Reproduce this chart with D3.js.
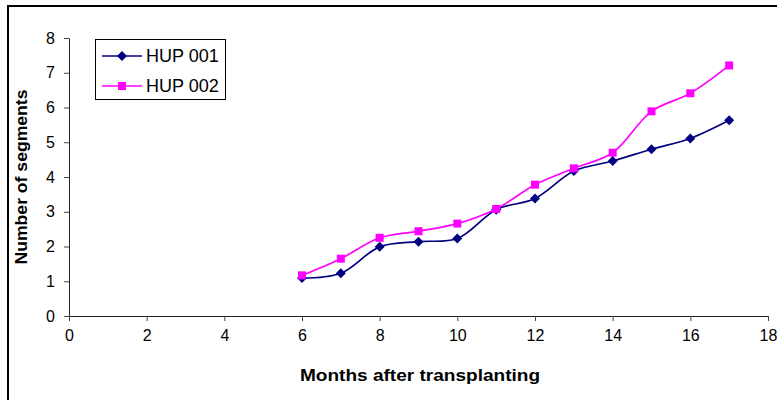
<!DOCTYPE html>
<html>
<head>
<meta charset="utf-8">
<script src="https://cdn.jsdelivr.net/npm/d3@7"></script>
<style>
  html, body { margin: 0; padding: 0; background: #fff; }
  svg { display: block; font-family: "Liberation Sans", Arial, sans-serif; }
</style>
</head>
<body>
<svg id="chart" width="777" height="400"></svg>
<script>
const months = [6, 7, 8, 9, 10, 11, 12, 13, 14, 15, 16, 17];
const hup001 = [1.09, 1.23, 1.99, 2.14, 2.23, 3.06, 3.38, 4.17, 4.46, 4.8, 5.11, 5.63];
const hup002 = [1.17, 1.65, 2.25, 2.44, 2.66, 3.08, 3.78, 4.25, 4.7, 5.89, 6.41, 7.21];
const seriesNames = ["HUP 001", "HUP 002"];
const xTicks = [0, 2, 4, 6, 8, 10, 12, 14, 16, 18];
const yTicks = [0, 1, 2, 3, 4, 5, 6, 7, 8];
const xTitle = "Months after transplanting";
const yTitle = "Number of segments";

const svg = d3.select("#chart");
const x = d3.scaleLinear().domain([0, 18]).range([69, 768]);
const y = d3.scaleLinear().domain([0, 8]).range([316, 38]);

// outer frame
svg.append("rect").attr("x", 8).attr("y", 6).attr("width", 900).attr("height", 500)
  .attr("fill", "none").attr("stroke", "#000").attr("stroke-width", 2);

// axes
const xAxis = svg.append("g").attr("transform", "translate(0,316)")
  .call(d3.axisBottom(x).tickValues(xTicks).tickSize(5).tickSizeOuter(0).tickPadding(9));
const yAxis = svg.append("g").attr("transform", "translate(69,0)")
  .call(d3.axisLeft(y).tickValues(yTicks).tickSize(5).tickSizeOuter(0).tickPadding(9));
[xAxis, yAxis].forEach(g => {
  g.select(".domain").attr("stroke", "#222");
  g.selectAll(".tick line").attr("stroke", "#444");
  g.selectAll(".tick text").attr("font-size", 16).attr("fill", "#000")
    .attr("font-family", "Liberation Sans, Arial, sans-serif");
});

// titles
svg.append("text").attr("x", 420).attr("y", 381).attr("text-anchor", "middle")
  .attr("font-size", 16).attr("font-weight", "bold")
  .attr("textLength", 240).attr("lengthAdjust", "spacingAndGlyphs").text(xTitle);
svg.append("text").attr("transform", "translate(27,177) rotate(-90)")
  .attr("text-anchor", "middle").attr("font-size", 16).attr("font-weight", "bold")
  .attr("textLength", 175).attr("lengthAdjust", "spacingAndGlyphs").text(yTitle);

const line = d3.line().x(d => x(d[0])).y(d => y(d[1])).curve(d3.curveCatmullRom.alpha(0.5));
const colors = ["#000080", "#FF00FF"];
const data = [hup001, hup002];

function marker(g, i, cx, cy) {
  if (i === 0) {
    g.append("path").attr("d", `M${cx},${cy-5}L${cx+5},${cy}L${cx},${cy+5}L${cx-5},${cy}Z`)
      .attr("fill", colors[0]);
  } else {
    g.append("rect").attr("x", cx-4).attr("y", cy-4).attr("width", 8).attr("height", 8)
      .attr("fill", colors[1]);
  }
}

data.forEach((vals, i) => {
  const pts = months.map((m, k) => [m, vals[k]]);
  svg.append("path").datum(pts).attr("d", line).attr("fill", "none")
    .attr("stroke", colors[i]).attr("stroke-width", 1.7);
  const g = svg.append("g");
  pts.forEach(p => marker(g, i, x(p[0]), y(p[1])));
});

// legend
const lg = svg.append("g");
lg.append("rect").attr("x", 95.5).attr("y", 39.5).attr("width", 130).attr("height", 60)
  .attr("fill", "#fff").attr("stroke", "#000").attr("stroke-width", 1);
seriesNames.forEach((name, i) => {
  const ly = 56 + i * 30;
  lg.append("line").attr("x1", 102).attr("x2", 142).attr("y1", ly).attr("y2", ly)
    .attr("stroke", colors[i]).attr("stroke-width", 1.7);
  marker(lg, i, 122, ly);
  lg.append("text").attr("x", 146).attr("y", ly + 6).attr("font-size", 18).text(name);
});
</script>
</body>
</html>
